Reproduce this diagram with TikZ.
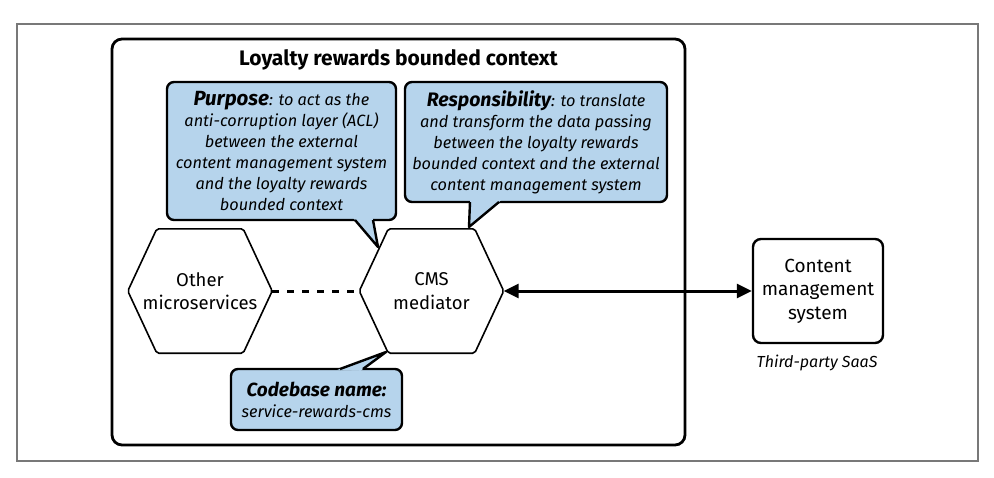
\documentclass[tikz,border=0pt]{standalone}
\usepackage{fontspec}
\setmainfont{Fira Sans}
\usetikzlibrary{arrows.meta, calc}
\definecolor{calloutblue}{RGB}{182,212,236}
\definecolor{framegray}{RGB}{120,120,120}
\newcommand\calloutlabel[2][20]{{\fontsize{#1}{21}\selectfont\bfseries #2}}
\tikzset{
  callout/.style={draw, fill=calloutblue, line width=2.4pt, rounded corners=7pt,
    inner sep=0pt, align=center, font=\fontsize{16.3}{21}\selectfont\itshape},
  tail/.style={line width=2.4pt, line join=round},
  hexnode/.style={minimum width=144pt, minimum height=124pt, inner sep=0pt, align=center,
    font=\fontsize{18.5}{23.5}\selectfont},
  hexline/.style={line width=1.6pt, rounded corners=2pt},
  sysbox/.style={draw, line width=2.4pt, rounded corners=8pt, minimum width=130pt,
    minimum height=104pt, inner sep=0pt, align=center, font=\fontsize{19}{23.5}\selectfont},
  bothways/.style={{Triangle[length=15pt,width=14pt]}-{Triangle[length=15pt,width=14pt]}, line width=3pt}
}

\begin{document}
\begin{tikzpicture}[x=1pt, y=-1pt]
\useasboundingbox (0,0) rectangle (994,477);
\draw[framegray, line width=1.2pt] (17,24) rectangle (978,461);

% bounded context
\draw[line width=2.8pt, rounded corners=10pt] (112,39) rectangle (685,445);
\node[font=\fontsize{21}{25}\selectfont\bfseries] (title) at (398.5,60) {Loyalty rewards bounded context};

\node[hexnode] (other) at (200,291) {Other\\microservices};
\node[hexnode] (cms) at (431.5,291) {CMS\\mediator};
\foreach \h in {other, cms}
  \draw[hexline] (\h.west) -- ([xshift=29pt]\h.north west) -- ([xshift=-29pt]\h.north east)
    -- (\h.east) -- ([xshift=-29pt]\h.south east) -- ([xshift=29pt]\h.south west) -- cycle;

% external system
\node[sysbox] (cmsys) at (818,291) {Content\\management\\system};
\node[font=\fontsize{16}{19}\selectfont\itshape] (saas) at (817,363) {Third-party SaaS};

\draw[line width=3pt, dash pattern=on 7pt off 8pt] (other.east) -- (cms.west);
\draw[bothways] (cms.east) -- (cmsys.west);

% callouts
\node[callout, minimum width=229pt, minimum height=138pt] (purpose) at (281.5,151)
  {\calloutlabel[20.5]{Purpose}: to act as the\\anti-corruption layer (ACL)\\between the external\\content management system\\and the loyalty rewards\\bounded context};
\coordinate (pa) at (355,220);
\coordinate (pb) at (373,220);
\coordinate (ptip) at (378,247);
\fill[calloutblue] ($(pa)!-3pt!(ptip)$) -- (ptip) -- ($(pb)!-3pt!(ptip)$) -- cycle;
\draw[tail] (pa) -- (ptip) -- (pb);

\node[callout, minimum width=262pt, minimum height=120pt] (resp) at (536,142)
  {\calloutlabel[19.5]{Responsibility}: to translate\\and transform the data passing\\between the loyalty rewards\\bounded context and the external\\content management system};
\coordinate (ra) at (470,202);
\coordinate (rb) at (499,202);
\coordinate (rtip) at (469,227);
\fill[calloutblue] ($(ra)!-3pt!(rtip)$) -- (rtip) -- ($(rb)!-3pt!(rtip)$) -- cycle;
\draw[tail] (ra) -- (rtip) -- (rb);

\node[callout, minimum width=171pt, minimum height=61pt] (codebase) at (316.5,399.5)
  {\calloutlabel[19]{Codebase name:}\\service-rewards-cms};
\coordinate (ca) at (340,369);
\coordinate (cb) at (363,369);
\coordinate (ctip) at (386,352);
\fill[calloutblue] ($(ca)!-3pt!(ctip)$) -- (ctip) -- ($(cb)!-3pt!(ctip)$) -- cycle;
\draw[tail] (ca) -- (ctip) -- (cb);
\end{tikzpicture}
\end{document}
